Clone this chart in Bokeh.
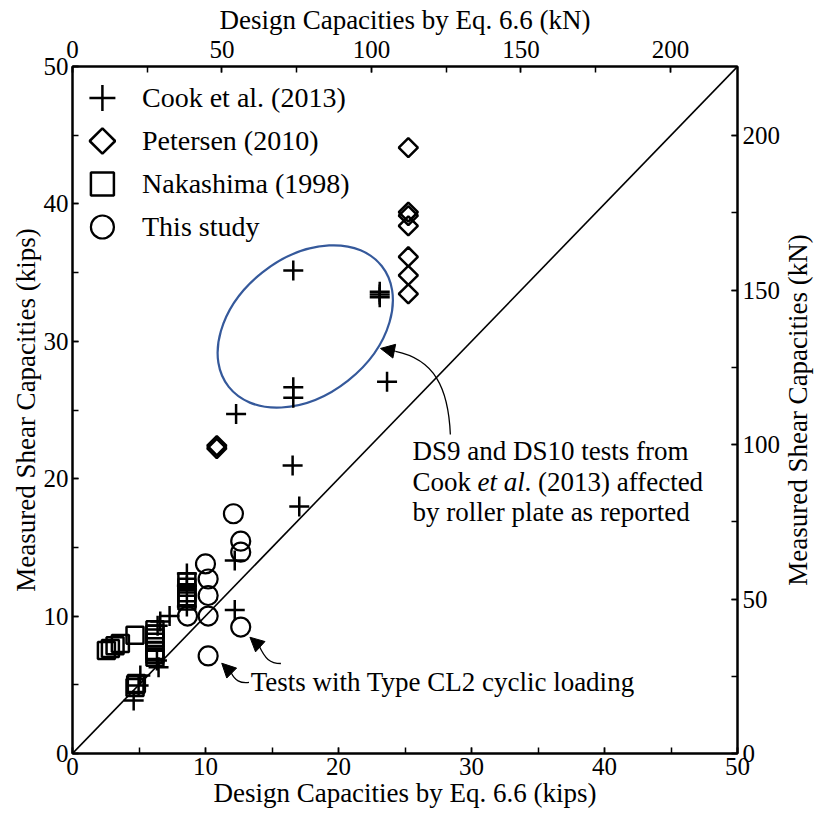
import numpy as np
from bokeh.plotting import figure
from bokeh.layouts import row
from bokeh.models import (Range1d, LinearAxis, FixedTicker, Legend, LegendItem,
                          Label, Arrow, NormalHead)
from bokeh.embed import file_html
from bokeh.resources import INLINE

KIP_TO_KN = 4.44822
FONT = "Liberation Serif"

# ---------------- data (kips) ----------------
cook_x = [16.6, 16.6, 16.6, 12.3, 23.1, 23.1, 23.1, 23.65, 16.55, 17.05,
          12.2, 12.2, 8.6, 8.6, 8.6, 7.3, 6.6, 6.4, 6.35, 6.47, 5.1, 4.97, 4.6]
cook_y = [35.15, 26.66, 25.9, 24.7, 33.6, 33.4, 33.2, 27.05, 20.96, 17.98,
          14.05, 10.45, 13.1, 12.2, 10.7, 10.0, 9.6, 9.3, 6.77, 6.28, 5.68, 4.95, 3.86]

petersen_x = [25.25, 25.25, 25.25, 25.25, 25.25, 25.25, 25.25, 10.85, 10.85]
petersen_y = [44.1, 39.4, 39.15, 38.4, 36.15, 34.8, 33.45, 22.4, 22.2]

nakashima_x = [2.55, 2.85, 3.2, 3.6, 4.7, 6.2, 6.2, 6.2, 6.2, 6.2, 6.2, 6.2,
               8.6, 8.6, 8.6, 8.6, 8.6, 4.7, 4.75, 4.8]
nakashima_y = [7.5, 7.65, 7.85, 8.0, 8.6, 9.0, 8.7, 8.4, 8.1, 7.5, 7.2, 7.0,
               12.5, 12.1, 11.7, 11.4, 11.1, 4.8, 5.0, 5.1]

study_x = [12.1, 12.65, 12.65, 10.0, 10.2, 10.2, 8.65, 10.2, 12.65, 10.2]
study_y = [17.45, 15.45, 14.65, 13.8, 12.7, 11.5, 10.0, 10.0, 9.2, 7.1]

diag_x = [0, 50]
diag_y = [0, 50]

kips_major = [0, 10, 20, 30, 40, 50]
kips_minor = list(range(0, 51, 5))
kn_major = [0, 50, 100, 150, 200]
kn_minor = list(range(0, 226, 25))

legend_labels = ["Cook et al. (2013)", "Petersen (2010)", "Nakashima (1998)", "This study"]

# ---------------- layout ----------------
W = H = 815
TITLE_W = 32                      # strip on the right holding the right-hand axis title
BL, BR, BT, BB = 72, 76, 66, 62
FW, FH = W - BL - BR, H - BT - BB

p = figure(width=W - TITLE_W, height=H, x_range=Range1d(0, 50), y_range=Range1d(0, 50),
           output_backend="svg", toolbar_location=None,
           min_border_left=BL, min_border_right=BR - TITLE_W,
           min_border_top=BT, min_border_bottom=BB)
p.xgrid.visible = False
p.ygrid.visible = False
p.outline_line_color = "black"
p.outline_line_width = 2
p.background_fill_color = "white"
p.border_fill_color = "white"

p.extra_x_ranges = {"kN": Range1d(0, 50 * KIP_TO_KN)}
p.extra_y_ranges = {"kN": Range1d(0, 50 * KIP_TO_KN)}

bottom_axis = p.below[0]
left_axis = p.left[0]
top_axis = LinearAxis(x_range_name="kN")
right_axis = LinearAxis(y_range_name="kN")
p.add_layout(top_axis, "above")
p.add_layout(right_axis, "right")


def style(ax, label_standoff=4, title_standoff=2):
    ax.axis_line_width = 2
    ax.axis_line_color = "black"
    ax.major_tick_in = 6
    ax.major_tick_out = 0
    ax.minor_tick_in = 6
    ax.minor_tick_out = 0
    ax.major_tick_line_width = 1.5
    ax.minor_tick_line_width = 1.5
    ax.major_tick_line_color = "black"
    ax.minor_tick_line_color = "black"
    ax.major_label_text_font = FONT
    ax.major_label_text_font_size = "25px"
    ax.major_label_text_color = "black"
    ax.major_label_standoff = label_standoff
    ax.axis_label_text_font = FONT
    ax.axis_label_text_font_size = "27px"
    ax.axis_label_text_font_style = "normal"
    ax.axis_label_text_color = "black"
    ax.axis_label_standoff = title_standoff


style(bottom_axis, 4, 0)
style(left_axis, 4, 0)
style(top_axis, 9, 3)
style(right_axis, 5, 0)

bottom_axis.ticker = FixedTicker(ticks=kips_major, minor_ticks=kips_minor)
left_axis.ticker = FixedTicker(ticks=kips_major, minor_ticks=kips_minor)
top_axis.ticker = FixedTicker(ticks=kn_major, minor_ticks=kn_minor)
right_axis.ticker = FixedTicker(ticks=kn_major, minor_ticks=kn_minor)

bottom_axis.axis_label = "Design Capacities by Eq. 6.6 (kips)"
left_axis.axis_label = "Measured Shear Capacities (kips)"
top_axis.axis_label = "Design Capacities by Eq. 6.6 (kN)"

# diagonal 1:1
p.line(diag_x, diag_y, line_color="black", line_width=1.6)

# ellipse around DS9 / DS10
p.ellipse(x=[17.5], y=[31.08], width=[195], height=[138], angle=[0.669],
          width_units="screen", height_units="screen",
          fill_alpha=0, line_color="#35599B", line_width=2.2)

# data
cook_style = dict(marker="cross", line_color="black", line_width=2.5)
pet_style = dict(marker="square", angle=np.pi / 4, line_color="black", line_width=2.5, fill_alpha=0)
nak_style = dict(marker="square", line_color="black", line_width=2.5, fill_alpha=0)
std_style = dict(marker="circle", line_color="black", line_width=2.2, fill_alpha=0)

p.scatter(cook_x, cook_y, size=20, **cook_style)
p.scatter(petersen_x, petersen_y, size=13.5, **pet_style)
p.scatter(nakashima_x, nakashima_y, size=17, **nak_style)
p.scatter(study_x, study_y, size=19, **std_style)

# ---------------- legend ----------------
LEG_PAD, LEG_GW, LEG_GH = 10, 40, 43
styles = [cook_style, pet_style, nak_style, std_style]
swatch_sizes = [26, 18, 23, 23]
items = []
for i, (lab, st, sz) in enumerate(zip(legend_labels, styles, swatch_sizes)):
    # legend entry (its own swatch is drawn invisibly; a larger one is drawn below)
    dummy = p.scatter([np.nan], [np.nan], size=sz, **{**st, "line_alpha": 0})
    items.append(LegendItem(label=lab, renderers=[dummy]))
    sx = (LEG_PAD + LEG_GW / 2) * 50 / FW
    sy = 50 - (LEG_PAD + LEG_GH / 2 + LEG_GH * i) * 50 / FH
    p.scatter([sx], [sy], size=sz, **st)

legend = Legend(items=items, location="top_left", glyph_width=LEG_GW, glyph_height=LEG_GH,
                spacing=0, label_standoff=20, padding=LEG_PAD, margin=0,
                background_fill_alpha=0, border_line_alpha=0,
                label_text_font=FONT, label_text_font_size="28px", label_text_color="black")
p.add_layout(legend)

# ---------------- annotations ----------------
ann = dict(text_font=FONT, text_font_size="27px", text_color="black", text_baseline="middle")
p.add_layout(Label(x=25.56, y=22.05, text="DS9 and DS10 tests from", **ann))
p.add_layout(Label(x=25.56, y=19.75, text="Cook", **ann))
p.add_layout(Label(x=25.56, y=19.75, x_offset=65, text="et al", text_font_style="italic", **ann))
p.add_layout(Label(x=25.56, y=19.75, x_offset=112, text=". (2013) affected", **ann))
p.add_layout(Label(x=25.56, y=17.56, text="by roller plate as reported", **ann))
p.add_layout(Label(x=13.4, y=5.2, text="Tests with Type CL2 cyclic loading", **ann))

# curved leaders
p.bezier(x0=[28.41, 14.02, 11.92], y0=[23.22, 7.86, 5.90],
         x1=[24.29, 15.67, 13.27], y1=[29.26, 6.55, 5.17],
         cx0=[28.26, 14.47, 12.22], cy0=[26.64, 6.91, 5.31],
         cx1=[27.20, 14.84, 12.59], cy1=[28.68, 6.55, 5.09],
         line_color="black", line_width=1.3)

for xs, ys, xe, ye in [(24.29, 29.26, 23.16, 29.48),
                       (14.02, 7.86, 13.34, 8.46),
                       (11.92, 5.90, 11.22, 6.57)]:
    p.add_layout(Arrow(end=NormalHead(size=14, fill_color="black", line_color="black", line_width=1),
                       x_start=xs, y_start=ys, x_end=xe, y_end=ye,
                       line_color="black", line_width=1.3))

# ---------------- right-hand axis title strip ----------------
pt = figure(width=TITLE_W, height=H, x_range=Range1d(0, 1), y_range=Range1d(0, 1),
            output_backend="svg", toolbar_location=None,
            min_border_left=0, min_border_right=0, min_border_top=BT, min_border_bottom=BB)
pt.axis.visible = False
pt.grid.visible = False
pt.outline_line_color = None
pt.background_fill_color = "white"
pt.border_fill_color = "white"
pt.add_layout(Label(x=0.45, y=0.5, text="Measured Shear Capacities (kN)", angle=np.pi / 2,
                    text_align="center", text_baseline="middle",
                    text_font=FONT, text_font_size="27px", text_color="black"))

layout = row(p, pt, spacing=0)
open("out.html", "w").write(file_html(layout, INLINE))
